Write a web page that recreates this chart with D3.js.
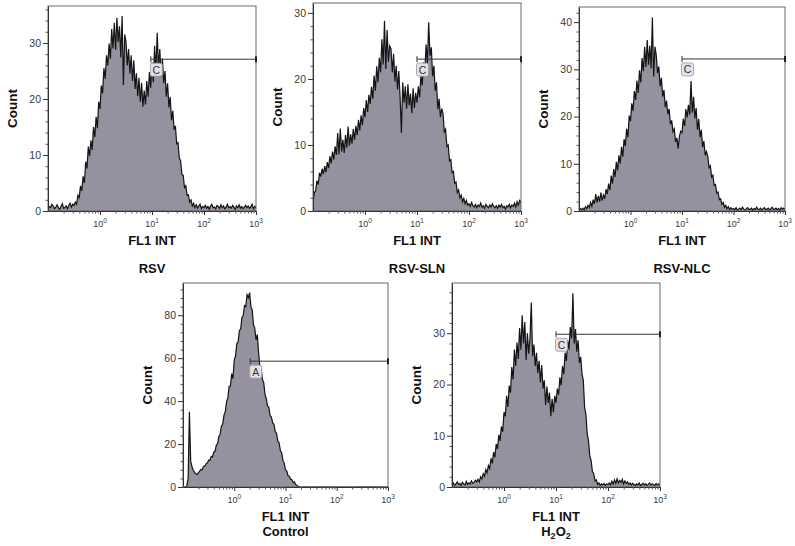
<!DOCTYPE html>
<html><head><meta charset="utf-8">
<script src="https://cdn.jsdelivr.net/npm/d3@7"></script>
<style>
html,body{margin:0;padding:0;background:#fff;}
svg{display:block;font-family:"Liberation Sans",Arial,sans-serif;}
</style></head>
<body><svg id="chart" width="795" height="546"></svg>
<script>
// ---- data: counts per channel, channels evenly spaced in log10 from 10^-1 to 10^3 (step 0.025 decade) ----
const panelNames = ["RSV", "RSV-SLN", "RSV-NLC", "Control", "H2O2"];

const rsvCounts = [
0.5,0.8,0.6,1.2,0.9,0.4,0.7,1.1,0.6,0.3,0.8,1.3,0.5,0.6,0.9,0.4,1.0,1.4,0.7,1.2,
1.0,1.6,1.2,2.8,2.4,4.5,3.6,6.2,5.0,8.8,7.6,11.5,9.8,12.6,10.9,15.0,13.2,16.8,14.8,19.5,
18.2,22.4,21.0,25.5,23.6,27.8,26.0,29.9,27.2,32.5,29.0,33.6,28.8,34.5,30.2,33.0,27.4,34.8,22.5,31.5,
30.2,26.0,28.9,24.5,27.8,23.2,26.9,21.8,24.6,20.5,23.8,19.5,22.9,18.6,21.5,19.0,23.2,20.4,24.8,22.0,
26.5,23.0,29.5,24.8,31.8,25.5,28.9,24.0,27.2,22.8,25.0,20.4,22.8,18.5,20.4,16.2,17.9,14.5,15.2,12.0,
12.2,9.4,9.0,6.5,6.4,4.2,4.5,2.8,2.9,1.6,2.0,0.9,1.4,0.6,1.1,0.5,0.9,1.2,0.4,0.8,
0.6,1.0,0.5,0.8,0.3,0.9,1.2,0.6,0.7,0.4,1.0,0.8,0.5,1.1,0.6,0.9,0.4,0.7,1.2,0.6,
0.8,0.5,1.0,0.7,0.3,0.9,0.6,1.1,0.5,0.8,0.4,0.7,1.0,0.6,0.9,0.5,0.7,1.2,0.4,0.8,0.6];

const rsvSlnCounts = [
1.2,2.8,3.0,4.6,4.0,5.8,5.2,6.4,5.6,6.8,5.9,7.4,6.5,8.3,7.2,9.0,7.8,9.8,8.5,11.8,
8.6,12.5,9.0,10.8,8.8,11.5,9.6,12.8,9.9,11.6,10.2,12.4,10.8,12.9,11.5,13.8,12.2,14.5,13.0,15.6,
14.2,16.8,15.0,17.6,16.2,18.8,17.0,20.5,18.2,21.9,19.5,23.2,21.0,26.0,22.2,28.8,21.5,27.4,22.6,25.0,
24.6,21.0,23.8,19.6,22.0,18.4,21.2,17.2,11.8,19.5,16.4,18.9,15.5,19.2,16.0,17.8,14.8,18.6,15.6,17.9,
16.4,18.9,17.2,20.6,19.0,22.5,21.0,25.2,22.4,28.6,23.5,24.8,20.4,22.0,18.2,19.5,15.4,17.0,14.2,15.5,
14.8,12.0,12.4,9.8,10.0,7.6,7.8,5.8,6.0,4.2,4.4,2.8,3.2,2.0,2.4,1.4,1.9,1.1,1.6,0.9,
1.1,0.7,1.3,0.8,0.6,1.0,0.5,0.9,0.7,1.2,0.6,0.8,0.4,1.0,0.7,0.5,0.9,0.6,1.1,0.7,
0.5,0.8,0.4,0.9,0.6,1.0,0.5,0.7,0.3,0.8,0.6,1.0,0.5,0.9,0.7,1.2,0.6,1.4,0.9,1.6,1.3];

const rsvNlcCounts = [
0.2,0.5,0.3,0.6,0.2,0.9,0.5,1.2,0.7,1.8,1.0,2.4,1.5,3.6,1.8,3.2,2.0,3.9,2.2,3.4,
2.6,4.6,3.6,5.8,4.4,7.5,5.8,8.9,7.2,10.4,8.6,11.8,10.0,13.6,11.5,15.2,13.8,17.4,15.6,20.2,
19.0,22.8,21.2,25.4,23.5,27.6,25.0,29.8,27.2,32.4,29.6,34.8,30.5,36.2,31.0,35.0,30.2,41.0,28.5,34.8,
33.0,29.2,30.6,26.4,28.2,24.2,25.6,22.0,23.4,20.5,21.6,18.4,19.2,16.8,17.4,14.6,15.5,13.2,15.8,16.9,
16.6,19.5,18.0,21.6,19.8,22.5,20.4,27.5,20.8,24.2,19.6,21.8,17.2,19.5,15.6,17.2,13.5,14.8,11.8,12.6,
11.6,9.2,9.6,7.2,7.6,5.4,5.6,3.8,4.0,2.4,2.6,1.4,1.8,0.8,1.2,0.5,0.9,0.3,0.7,0.4,
0.5,0.3,0.7,0.2,0.4,0.6,0.3,0.8,0.4,0.2,0.5,0.7,0.3,0.4,0.6,0.2,0.5,0.3,0.8,0.4,
0.3,0.6,0.2,0.5,0.7,0.3,0.4,0.6,0.2,0.5,0.8,0.3,0.4,0.6,0.3,0.5,0.2,0.7,0.4,0.6,0.3];

const controlCounts = [
0,0,0,0.5,4,35,12,9.5,7.8,6.8,6.2,5.8,6.6,7.4,8.2,8.0,9.6,9.8,10.8,11.2,
12.5,12.4,14.2,14.0,16.2,16.6,19.4,20.2,23.5,24.6,28.4,29.2,33.5,35.0,39.8,41.5,46.8,47.0,52.8,50.5,
59.2,61.0,66.8,67.5,72.8,73.6,79.0,79.8,84.5,84.0,89.5,88.2,90.5,84.0,82.5,75.5,74.0,68.5,71.0,62.5,
56.0,54.8,50.2,48.6,43.2,41.2,37.6,37.2,33.2,32.6,29.8,29.2,25.8,25.0,21.4,20.6,17.0,16.0,12.4,11.0,
8.0,7.4,5.2,5.0,3.6,3.4,2.0,2.4,1.0,0.8,0.2,0,0,0,0,0,0,0,0,0,
0,0,0,0,0,0,0,0,0,0,0,0,0,0,0,0,0,0,0,0,
0,0,0,0,0,0,0,0,0,0,0,0,0,0,0,0,0,0,0,0,
0,0,0,0,0,0,0,0,0,0,0,0,0,0,0,0,0,0,0,0,0];

const h2o2Counts = [
0.4,0.8,0.3,0.6,1.0,0.5,0.7,0.3,0.9,0.6,0.4,1.1,0.5,0.8,0.6,1.2,0.7,0.9,1.3,1.0,
1.5,1.0,2.0,1.6,2.6,2.1,3.4,2.8,4.2,3.6,5.6,4.6,6.8,5.8,8.4,7.4,10.2,9.0,11.8,10.8,
14.6,13.8,17.8,15.6,19.8,18.4,23.4,21.0,26.8,23.6,28.2,25.0,31.0,26.8,33.5,28.0,32.2,24.8,30.0,26.0,
29.0,36.0,25.5,27.8,23.6,26.2,22.2,24.6,20.4,23.8,19.2,20.8,16.0,19.6,16.4,18.4,13.8,17.2,14.6,17.8,
16.4,19.2,18.0,21.4,19.8,23.6,22.0,26.2,24.6,28.6,26.8,31.2,29.0,37.8,28.0,30.8,26.4,28.6,24.2,25.4,
22.0,20.8,15.6,14.2,10.4,9.0,6.0,5.2,3.0,2.6,1.2,1.4,0.5,0.8,0.3,0.6,0.4,0.7,0.3,0.6,
0.5,0.8,0.4,1.1,0.6,1.4,0.7,1.6,0.8,1.3,0.9,1.5,0.6,1.2,0.7,1.0,0.5,0.8,0.4,0.7,
0.5,0.3,0.6,0.4,0.8,0.3,0.5,0.7,0.4,0.6,0.3,0.5,0.8,0.4,0.6,0.5,0.3,0.7,0.4,0.6,0.5];

const seriesList = [rsvCounts, rsvSlnCounts, rsvNlcCounts, controlCounts, h2o2Counts];
const yMax = [36.6, 31.5, 43.2, 95, 39.8];
const yMajorStep = [10, 10, 10, 20, 10];
const yMinorStep = [2, 2, 2, 4, 2];
const gateStart = [9.5, 10, 10, 2.05, 10];
const gateLevel = [27.1, 23, 32.2, 58.6, 29.8];
const gateLabels = ["C", "C", "C", "A", "C"];
const xTickValues = [1, 10, 100, 1000];
const xTickExponents = ["0", "1", "2", "3"];

// ---- layout ----
const frames = [
  {x0: 48,  x1: 256, y0: 6,   y1: 211},
  {x0: 313, x1: 521, y0: 3,   y1: 211},
  {x0: 579, x1: 785, y0: 7,   y1: 211},
  {x0: 183, x1: 388, y0: 283, y1: 487},
  {x0: 452, x1: 660, y0: 283, y1: 487}
];

const svg = d3.select("#chart");
const FILL = "#96919f";

seriesList.forEach((counts, p) => {
  const f = frames[p];
  const n = counts.length;
  const channels = d3.range(n).map(i => Math.pow(10, -1 + 4 * i / (n - 1)));
  const x = d3.scaleLog().domain([0.1, 1000]).range([f.x0, f.x1]);
  const y = d3.scaleLinear().domain([0, yMax[p]]).range([f.y1, f.y0]);
  const g = svg.append("g");
  const pts = counts.map((c, i) => [channels[i], c]);

  const clipId = "clip" + p;
  svg.append("clipPath").attr("id", clipId).append("rect")
    .attr("x", f.x0).attr("y", f.y0).attr("width", f.x1 - f.x0).attr("height", f.y1 - f.y0);

  const plot = g.append("g").attr("clip-path", `url(#${clipId})`);
  plot.append("path").datum(pts)
    .attr("d", d3.area().x(d => x(d[0])).y0(y(0)).y1(d => y(d[1])))
    .attr("fill", FILL);
  plot.append("path").datum(pts)
    .attr("d", d3.line().x(d => x(d[0])).y(d => y(d[1])))
    .attr("fill", "none").attr("stroke", "#141414").attr("stroke-width", 1.2)
    .attr("stroke-linejoin", "miter");

  // frame
  g.append("rect").attr("x", f.x0).attr("y", f.y0)
    .attr("width", f.x1 - f.x0).attr("height", f.y1 - f.y0)
    .attr("fill", "none").attr("stroke", "#5a5a5a").attr("stroke-width", 0.9);

  // y axis
  const majors = d3.range(0, yMax[p] + 0.001, yMajorStep[p]);
  const minors = d3.range(0, yMax[p] + 0.001, yMinorStep[p]).filter(v => majors.indexOf(v) < 0);
  const ya = g.append("g").attr("transform", `translate(${f.x0},0)`)
    .call(d3.axisLeft(y).tickValues(majors).tickSize(5).tickSizeOuter(0).tickPadding(2));
  ya.select(".domain").attr("stroke", "#333");
  ya.selectAll(".tick line").attr("stroke", "#333");
  ya.selectAll(".tick text").attr("font-size", 10.5).attr("fill", "#3a3a3a")
    .attr("font-family", "Liberation Sans, Arial, sans-serif");
  const ym = g.append("g").attr("transform", `translate(${f.x0},0)`)
    .call(d3.axisLeft(y).tickValues(minors).tickSize(2.5).tickFormat(""));
  ym.select(".domain").remove();
  ym.selectAll(".tick line").attr("stroke", "#555");

  // x axis
  const xa = g.append("g").attr("transform", `translate(0,${f.y1})`)
    .call(d3.axisBottom(x).tickValues(xTickValues).tickSize(4).tickSizeOuter(0).tickFormat(""));
  xa.select(".domain").attr("stroke", "#333");
  xa.selectAll(".tick line").attr("stroke", "#333");
  const minorX = [];
  [0.1, 1, 10, 100].forEach(dec => { for (let k = 2; k <= 9; k++) minorX.push(dec * k); });
  const xm = g.append("g").attr("transform", `translate(0,${f.y1})`)
    .call(d3.axisBottom(x).tickValues(minorX).tickSize(2.5).tickFormat(""));
  xm.select(".domain").remove();
  xm.selectAll(".tick line").attr("stroke", "#555");

  xTickValues.forEach((v, k) => {
    const t = g.append("text").attr("x", x(v)).attr("y", f.y1 + 16)
      .attr("text-anchor", "middle").attr("font-size", 9).attr("fill", "#3a3a3a");
    t.append("tspan").text("10");
    t.append("tspan").attr("dy", -4).attr("font-size", 6.5).text(xTickExponents[k]);
  });

  // gate marker
  const gx = x(gateStart[p]), gy = y(gateLevel[p]);
  g.append("line").attr("x1", gx).attr("x2", f.x1).attr("y1", gy).attr("y2", gy)
    .attr("stroke", "#333").attr("stroke-width", 1);
  g.append("line").attr("x1", gx).attr("x2", gx).attr("y1", gy - 3).attr("y2", gy + 3)
    .attr("stroke", "#333").attr("stroke-width", 1);
  g.append("line").attr("x1", f.x1).attr("x2", f.x1).attr("y1", gy - 3).attr("y2", gy + 3)
    .attr("stroke", "#222").attr("stroke-width", 2);
  g.append("rect").attr("x", gx - 0.5).attr("y", gy + 4).attr("width", 12).attr("height", 13)
    .attr("rx", 2).attr("fill", "#e4e2e8").attr("stroke", "#9a9a9a").attr("stroke-width", 0.8);
  g.append("text").attr("x", gx + 5.5).attr("y", gy + 14.5).attr("text-anchor", "middle")
    .attr("font-size", 10.5).attr("fill", "#333").text(gateLabels[p]);

  // axis titles
  const cy = (f.y0 + f.y1) / 2;
  g.append("text").attr("transform", `translate(${f.x0 - 36},${cy}) rotate(-90)`)
    .attr("text-anchor", "middle").attr("dominant-baseline", "central")
    .attr("font-size", 13.5).attr("font-weight", "bold")
    .attr("fill", "#111").text("Count");
  const cx = (f.x0 + f.x1) / 2;
  g.append("text").attr("x", cx).attr("y", f.y1 + 34).attr("text-anchor", "middle")
    .attr("font-size", 13).attr("font-weight", "bold").attr("fill", "#111").text("FL1 INT");
});

// panel names
[0, 1, 2].forEach(p => {
  const f = frames[p];
  svg.append("text").attr("x", (f.x0 + f.x1) / 2).attr("y", 273).attr("text-anchor", "middle")
    .attr("font-size", 13).attr("font-weight", "bold").attr("fill", "#111").text(panelNames[p]);
});
{
  const f = frames[3];
  svg.append("text").attr("x", (f.x0 + f.x1) / 2).attr("y", 536).attr("text-anchor", "middle")
    .attr("font-size", 13).attr("font-weight", "bold").attr("fill", "#111").text(panelNames[3]);
}
{
  const f = frames[4];
  const t = svg.append("text").attr("x", (f.x0 + f.x1) / 2).attr("y", 536).attr("text-anchor", "middle")
    .attr("font-size", 13).attr("font-weight", "bold").attr("fill", "#111");
  t.append("tspan").text("H");
  t.append("tspan").attr("dy", 3).attr("font-size", 9).text("2");
  t.append("tspan").attr("dy", -3).text("O");
  t.append("tspan").attr("dy", 3).attr("font-size", 9).text("2");
}
</script>
</body></html>
